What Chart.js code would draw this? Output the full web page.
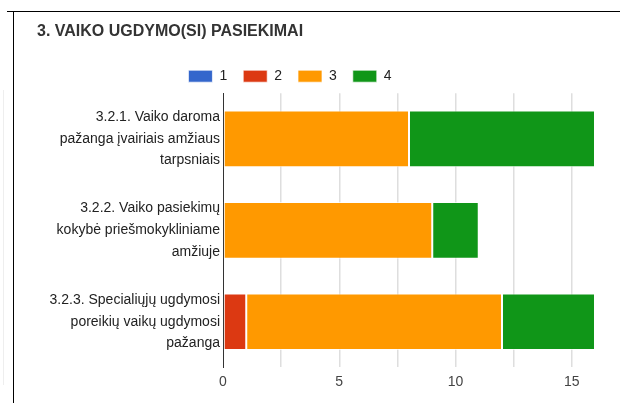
<!DOCTYPE html>
<html>
<head>
<meta charset="utf-8">
<script src="https://cdn.jsdelivr.net/npm/chart.js@4"></script>
<style>
    body { margin: 0; background: #fff; }
    #frame { position: absolute; left: 7px; top: 11px; width: 613px; height: 392px; border-top: 1.5px solid #000; }
    #leftLine { position: absolute; left: 13px; top: 11px; width: 0; height: 392px; border-left: 1.5px solid #000; }
    #faint { position: absolute; left: 3px; top: 90px; width: 0; height: 295px; border-left: 1px solid #eee; }
    #box { position: absolute; left: 15px; top: 12px; width: 605px; height: 391px; }
</style>
</head>
<body>
<div id="frame"></div>
<div id="leftLine"></div>
<div id="faint"></div>
<div id="box"><canvas id="chart"></canvas></div>
<script>
// Chart data
const categories = [
    ['3.2.1. Vaiko daroma', 'pažanga įvairiais amžiaus', 'tarpsniais'],
    ['3.2.2. Vaiko pasiekimų', 'kokybė priešmokykliniame', 'amžiuje'],
    ['3.2.3. Specialiųjų ugdymosi', 'poreikių vaikų ugdymosi', 'pažanga']
];
const seriesNames = ['1', '2', '3', '4'];
const values1 = [0, 0, 0];
const values2 = [0, 0, 1];
const values3 = [8, 9, 11];
const values4 = [8, 2, 4];
const xTicks = [0, 5, 10, 15];
const gridValues = [0, 2.5, 5, 7.5, 10, 12.5, 15];

const colors = ['#3366cc', '#dc3912', '#ff9900', '#109618'];
const allValues = [values1, values2, values3, values4];

// Shift the legend a bit to the left, like the original
const legendShift = {
    id: 'legendShift',
    afterLayout(chart) {
        chart.legend.left -= 26;
        chart.legend.right -= 26;
    }
};

new Chart(document.getElementById('chart'), {
    type: 'bar',
    data: {
        labels: categories,
        datasets: seriesNames.map(function(name, i) {
            return {
                label: name,
                data: allValues[i],
                backgroundColor: colors[i],
                borderColor: 'rgba(255,255,255,0.7)',
                borderWidth: 1,
                borderSkipped: false,
                barPercentage: 0.62,
                categoryPercentage: 1
            };
        })
    },
    options: {
        indexAxis: 'y',
        responsive: true,
        maintainAspectRatio: false,
        animation: false,
        layout: { padding: { left: 22, right: 25, top: 0, bottom: 6 } },
        plugins: {
            title: {
                display: true,
                text: '3. VAIKO UGDYMO(SI) PASIEKIMAI',
                align: 'start',
                color: '#333',
                font: { family: "'Liberation Sans', Arial", size: 16, weight: 'bold' },
                padding: { top: 10, bottom: 12 }
            },
            legend: {
                position: 'top',
                labels: {
                    boxWidth: 24,
                    boxHeight: 12,
                    padding: 16,
                    color: '#222',
                    font: { family: "'Liberation Sans', Arial", size: 14 }
                }
            },
            tooltip: { enabled: false }
        },
        scales: {
            x: {
                stacked: true,
                min: 0,
                max: 16,
                afterBuildTicks: function(scale) {
                    scale.ticks = gridValues.map(function(v) { return { value: v }; });
                },
                ticks: {
                    padding: 6,
                    color: '#444',
                    font: { family: "'Liberation Sans', Arial", size: 14 },
                    callback: function(v) { return xTicks.indexOf(v) >= 0 ? v : ''; }
                },
                grid: {
                    drawTicks: false,
                    lineWidth: 1.5,
                    color: function(ctx) { return ctx.tick && ctx.tick.value === 0 ? 'rgba(0,0,0,0)' : '#dedede'; }
                },
                border: { display: false }
            },
            y: {
                stacked: true,
                afterFit: function(scale) { scale.width = 186; },
                ticks: {
                    padding: 3,
                    color: '#222',
                    font: { family: "'Liberation Sans', Arial", size: 14, lineHeight: 1.55 }
                },
                grid: { display: false, drawTicks: false },
                border: { display: true, color: '#333', width: 1 }
            }
        }
    },
    plugins: [legendShift]
});
</script>
</body>
</html>
